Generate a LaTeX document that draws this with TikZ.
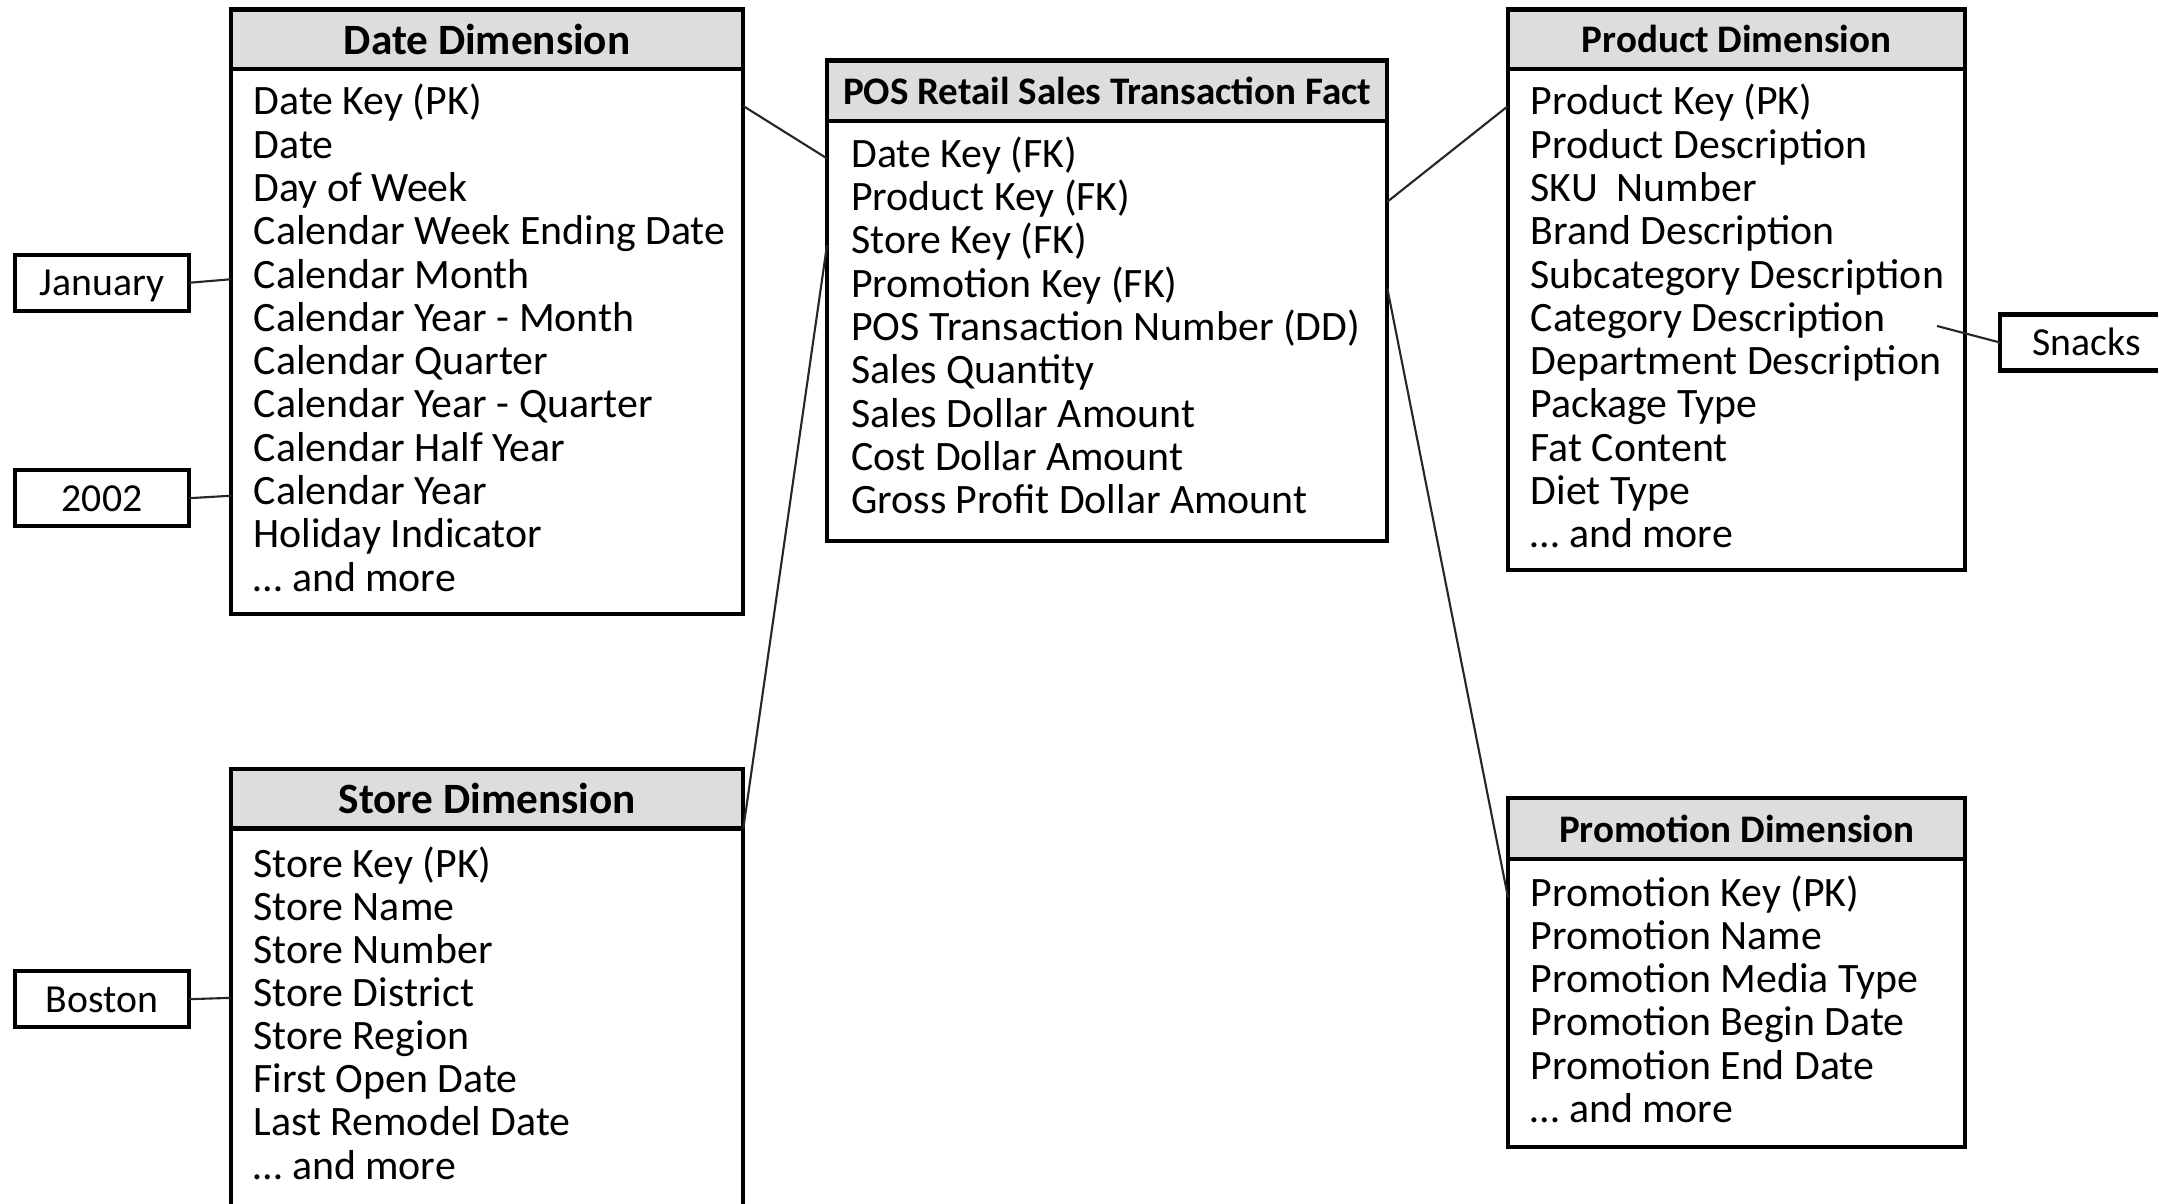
\documentclass[tikz,border=0pt]{standalone}
\usepackage{fontspec}
\setmainfont{Carlito}
\usetikzlibrary{calc}
\definecolor{hdrgray}{HTML}{DDDDDD}
\begin{document}
\begin{tikzpicture}[x=0.01cm,y=-0.01cm,
  frame/.style={draw=black, line width=1.2pt, outer sep=0pt},
  tblhead/.style={frame, fill=hdrgray, anchor=north west, inner sep=0pt,
    font=\fontsize{11.1}{13}\selectfont\bfseries},
  bighead/.style={tblhead, font=\fontsize{12.3}{14}\selectfont\bfseries},
  tblbody/.style={frame, fill=white, anchor=north west, inner sep=0pt},
  row/.style={anchor=west, inner sep=0pt, text height=0.72em, text depth=0.22em,
    font=\fontsize{11.9}{14}\selectfont},
  tag/.style={frame, fill=white, minimum width=1.735cm, minimum height=0.56cm,
    inner sep=0pt, text height=0.85em, text depth=0.1em, font=\fontsize{11.3}{13}\selectfont},
  link/.style={draw=black!85, line width=0.6pt}
]
\path[use as bounding box] (0,0) rectangle (2158,1203);
\clip (0,0) rectangle (2158,1203);
\fill[white] (0,0) rectangle (2158,1203);

% ---- Date dimension
\node[bighead, minimum width=5.12cm, minimum height=0.594cm] (date-h) at (231,9.6) {Date Dimension};
\node[tblbody, minimum width=5.12cm, minimum height=5.45cm] (date) at (date-h.south west) {};
\foreach \t [count=\i] in {Date Key (PK),Date,Day of Week,Calendar Week Ending Date,Calendar Month,
  Calendar Year - Month,Calendar Quarter,Calendar Year - Quarter,Calendar Half Year,Calendar Year,
  Holiday Indicator,… and more}
  \node[row] (date-\i) at ($(date.north west)+(22,{37+(\i-1)*43.3})$) {\t};

% ---- Fact table
\node[tblhead, minimum width=5.6cm, minimum height=0.605cm] (fact-h) at (827,60.6) {POS Retail Sales Transaction Fact};
\node[tblbody, minimum width=5.6cm, minimum height=4.2cm] (fact) at (fact-h.south west) {};
\foreach \t [count=\i] in {Date Key (FK),Product Key (FK),Store Key (FK),Promotion Key (FK),
  POS Transaction Number (DD),Sales Quantity,Sales Dollar Amount,Cost Dollar Amount,
  Gross Profit Dollar Amount}
  \node[row] (fact-\i) at ($(fact.north west)+(23.6,{37.3+(\i-1)*43.3})$) {\t};

% ---- Product dimension
\node[tblhead, minimum width=4.57cm, minimum height=0.594cm] (prod-h) at (1508,9.6) {Product Dimension};
\node[tblbody, minimum width=4.57cm, minimum height=5.01cm] (prod) at (prod-h.south west) {};
\foreach \t [count=\i] in {Product Key (PK),Product Description,SKU\ \ Number,Brand Description,
  Subcategory Description,Category Description,Department Description,Package Type,Fat Content,
  Diet Type,… and more}
  \node[row] (prod-\i) at ($(prod.north west)+(22,{37+(\i-1)*43.3})$) {\t};

% ---- Store dimension (runs past the lower edge)
\node[bighead, minimum width=5.12cm, minimum height=0.595cm] (store-h) at (231,769) {Store Dimension};
\node[tblbody, minimum width=5.12cm, minimum height=4.6cm] (store) at (store-h.south west) {};
\foreach \t [count=\i] in {Store Key (PK),Store Name,Store Number,Store District,Store Region,
  First Open Date,Last Remodel Date,… and more}
  \node[row] (store-\i) at ($(store.north west)+(22,{40+(\i-1)*43.1})$) {\t};

% ---- Promotion dimension
\node[tblhead, minimum width=4.57cm, minimum height=0.61cm] (promo-h) at (1508,798) {Promotion Dimension};
\node[tblbody, minimum width=4.57cm, minimum height=2.875cm] (promo) at (promo-h.south west) {};
\foreach \t [count=\i] in {Promotion Key (PK),Promotion Name,Promotion Media Type,
  Promotion Begin Date,Promotion End Date,… and more}
  \node[row] (promo-\i) at ($(promo.north west)+(22,{38.5+(\i-1)*43.2})$) {\t};

% ---- sample attribute values
\node[tag] (jan) at (102,282.8) {January};
\node[tag] (yr) at (102,498.2) {2002};
\node[tag] (bos) at (102,999.2) {Boston};
\node[tag] (snk) at (2086.75,342.5) {Snacks};
\coordinate (cat-tip) at (1937,326);

% ---- connectors
\draw[link] (jan.east) -- (date.west |- date-5);
\draw[link] (yr.east) -- (date.west |- date-10);
\draw[link] (bos.east) -- (store.west |- store-4);
\draw[link] (cat-tip) -- (snk.west);

\draw[link] (date.east |- date-1) -- (fact.west |- fact-1);
\draw[link] (store-h.south east) -- (fact.west |- fact-3);
\draw[link] (prod.west |- prod-1) -- (fact.east |- fact-2);
\draw[link] (promo.west |- promo-1) -- (fact.east |- fact-4);
\end{tikzpicture}
\end{document}
